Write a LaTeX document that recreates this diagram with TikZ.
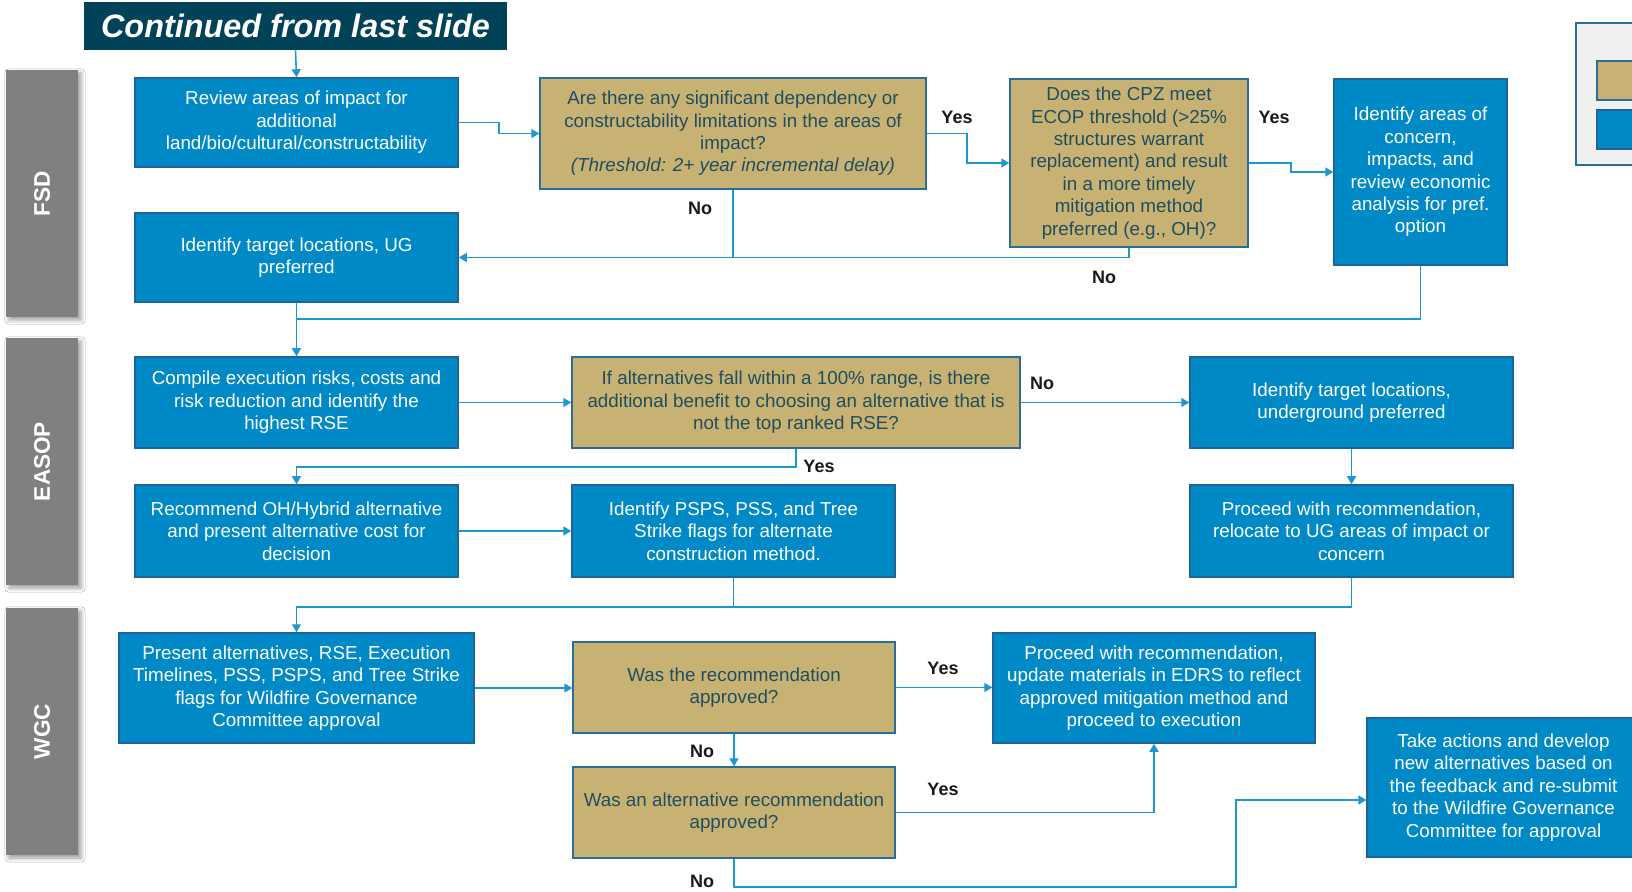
\documentclass[tikz,border=0pt]{standalone}
\usepackage{fontspec}
\setmainfont{Liberation Sans}
\usetikzlibrary{arrows.meta,shadows.blur}
\definecolor{boxblue}{RGB}{0,137,199}
\definecolor{blueedge}{RGB}{31,100,150}
\definecolor{boxgold}{RGB}{200,178,115}
\definecolor{goldedge}{RGB}{40,110,150}
\definecolor{goldtext}{RGB}{31,78,95}
\definecolor{flowblue}{RGB}{30,150,210}
\definecolor{titleblue}{RGB}{0,66,88}
\definecolor{lanegray}{RGB}{128,128,128}
\definecolor{legendfill}{RGB}{240,240,240}

\begin{document}
\begin{tikzpicture}[x=0.5pt,y=-0.5pt,
  every node/.style={font=\fontsize{9.4}{11.2}\selectfont,align=center,inner sep=0pt},
  bluebox/.style 2 args={draw=blueedge,line width=0.75pt,fill=boxblue,text=white,minimum width=#1,minimum height=#2},
  goldbox/.style 2 args={draw=goldedge,line width=0.75pt,fill=boxgold,text=goldtext,minimum width=#1,minimum height=#2},
  title/.style={fill=titleblue,text=white,minimum width=211.5pt,minimum height=24pt,font=\fontsize{16.2}{19}\selectfont\bfseries\itshape},
  lane/.style={fill=lanegray,minimum width=36pt,minimum height=123.5pt,blur shadow={shadow xshift=1.5pt,shadow yshift=-1.5pt}},
  lanetxt/.style={rotate=90,text=white,font=\fontsize{11.3}{13}\selectfont\bfseries},
  flow/.style={draw=flowblue,line width=0.8pt,-{Triangle[length=4pt,width=4.5pt]}},
  link/.style={draw=flowblue,line width=0.8pt},
  answer/.style={font=\fontsize{9}{11}\selectfont\bfseries,text=black!90}]
\useasboundingbox (0,0) rectangle (1632,892);
\clip (0,0) rectangle (1632,892);
\fill[white] (0,0) rectangle (1632,892);

\draw[draw=goldedge,fill=legendfill,line width=0.75pt] (1576,23) rectangle (1650,165);
\draw[draw=goldedge,fill=boxgold,line width=0.75pt] (1597,61) rectangle (1650,100);
\draw[draw=blueedge,fill=boxblue,line width=0.75pt] (1597,110) rectangle (1650,149);

\node[lane,label={[lanetxt]center:FSD}] (fsd) at (42,193.5) {};
\node[lane,label={[lanetxt]center:EASOP}] (easop) at (42,461.5) {};
\node[lane,label={[lanetxt]center:WGC}] (wgc) at (42,731.5) {};

\node[title] (start) at (295.5,26) {Continued from last slide};
\node[bluebox={161.5pt}{44.5pt}] (review) at (296.5,122.5) {Review areas of impact for\\additional\\land/bio/cultural/constructability};
\node[bluebox={161.5pt}{44.5pt}] (tgtug) at (296.5,257.5) {Identify target locations, UG\\preferred};
\node[goldbox={193pt}{55.5pt}] (depq) at (733,133.5) {Are there any significant dependency or\\constructability limitations in the areas of\\impact?\\{\itshape (Threshold: 2+ year incremental delay)}};
\node[goldbox={119pt}{84pt}] (ecopq) at (1129,163) {Does the CPZ meet\\ECOP threshold (>25\%\\structures warrant\\replacement) and result\\in a more timely\\mitigation method\\preferred (e.g., OH)?};
\node[bluebox={86.5pt}{93pt}] (concern) at (1420.5,172) {Identify areas of\\concern,\\impacts, and\\review economic\\analysis for pref.\\option};

\node[bluebox={161.5pt}{45.5pt}] (compile) at (296.5,402.5) {Compile execution risks, costs and\\risk reduction and identify the\\highest RSE};
\node[goldbox={224pt}{45.5pt}] (rangeq) at (796,402.5) {If alternatives fall within a 100\% range, is there\\additional benefit to choosing an alternative that is\\not the top ranked RSE?};
\node[bluebox={161.5pt}{45.5pt}] (ugpref) at (1351.5,402.5) {Identify target locations,\\underground preferred};
\node[bluebox={161.5pt}{46pt}] (recommend) at (296.5,531) {Recommend OH/Hybrid alternative\\and present alternative cost for\\decision};
\node[bluebox={161.5pt}{46pt}] (psps) at (733.5,531) {Identify PSPS, PSS, and Tree\\Strike flags for alternate\\construction method.};
\node[bluebox={161.5pt}{46pt}] (relocate) at (1351.5,531) {Proceed with recommendation,\\relocate to UG areas of impact or\\concern};

\node[bluebox={177.5pt}{55pt}] (present) at (296.5,688) {Present alternatives, RSE, Execution\\Timelines, PSS, PSPS, and Tree Strike\\flags for Wildfire Governance\\Committee approval};
\node[goldbox={161pt}{45.5pt}] (apprq) at (734,687.5) {Was the recommendation\\approved?};
\node[bluebox={161pt}{55pt}] (proceed) at (1154,688) {Proceed with recommendation,\\update materials in EDRS to reflect\\approved mitigation method and\\proceed to execution};
\node[goldbox={161pt}{45.5pt}] (altq) at (734,812.5) {Was an alternative recommendation\\approved?};
\node[bluebox={136.5pt}{69.5pt}] (take) at (1503.5,787.5) {Take actions and develop\\new alternatives based on\\the feedback and re-submit\\to the Wildfire Governance\\Committee for approval};

\coordinate (fsdjoin) at (296.5,319);
\coordinate (easopjoin) at (733.5,607);
\coordinate (nobend) at (1236,887);

\draw[flow] (start.south) -- (review.north);
\draw[flow] (review.east) -- ++(40,0) |- (depq.west);
\draw[flow] (depq.east) -- ++(40,0) |- (ecopq.west);
\draw[flow] (ecopq.east) -- ++(42,0) |- (concern.west);
\draw[flow] (depq.south) |- (tgtug.east);
\draw[link] (ecopq.south) |- (depq.south |- tgtug.east);
\draw[flow] (tgtug.south) -- (compile.north);
\draw[link] (concern.south) |- (fsdjoin);
\draw[flow] (compile.east) -- (rangeq.west);
\draw[flow] (rangeq.east) -- (ugpref.west);
\draw[flow] (rangeq.south) -- ++(0,18) -| (recommend.north);
\draw[flow] (recommend.east) -- (psps.west);
\draw[flow] (ugpref.south) -- (relocate.north);
\draw[flow] (psps.south) -- (easopjoin) -| (present.north);
\draw[link] (relocate.south) |- (easopjoin);
\draw[flow] (present.east) -- (present.east -| apprq.west);
\draw[flow] (apprq.east) -- (apprq.east -| proceed.west);
\draw[flow] (apprq.south) -- (altq.north);
\draw[flow] (altq.east) -| (proceed.south);
\draw[flow] (altq.south) |- (nobend) |- ([yshift=-6.25pt]take.west);

\node[answer] (yes1) at (957,117) {Yes};
\node[answer] (no1) at (700,208) {No};
\node[answer] (yes2) at (1274,117) {Yes};
\node[answer] (no2) at (1104,277) {No};
\node[answer] (no3) at (1042,383) {No};
\node[answer] (yes3) at (819,466) {Yes};
\node[answer] (yes4) at (943,668) {Yes};
\node[answer] (no4) at (702,751) {No};
\node[answer] (yes5) at (943,789) {Yes};
\node[answer] (no5) at (702,881) {No};
\end{tikzpicture}
\end{document}
